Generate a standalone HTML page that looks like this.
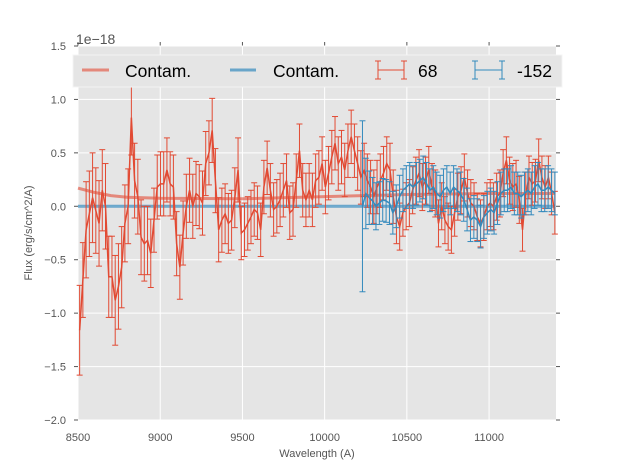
<!DOCTYPE html>
<html><head><meta charset="utf-8"><style>
html,body{margin:0;padding:0;background:#fff;}
svg{display:block;font-family:"Liberation Sans","DejaVu Sans",sans-serif;}
</style></head><body>
<svg id="chart" width="617" height="467" viewBox="0 0 617 467"></svg>
<script>
const redFlux = [-1.16,-0.69,-0.22,-0.07,0.08,-0.04,-0.16,0.15,0,-0.66,-0.66,-0.88,-0.75,-0.57,-0.16,0,0.83,0.24,0.09,-0.29,-0.35,-0.32,-0.44,-0.13,0.18,0.21,0.21,0.34,0.21,0.18,-0.35,-0.57,-0.25,0,0.15,0,0.12,0.09,0.03,0.4,0.5,0.71,0.24,-0.22,-0.13,-0.07,-0.16,-0.13,
0.08,0.34,-0.25,-0.22,-0.16,-0.1,-0.03,-0.06,-0.22,0.18,0.36,0.15,-0.03,0,0.06,0.15,0.24,-0.06,-0.03,0.24,0.52,0.15,0.06,0.15,0.06,0.24,0.27,0.4,0.18,0.31,0.46,0.59,0.4,0.46,0.34,0.52,0.65,0.52,0.4,0.27,0.34,0.24,0.18,0.09,0.18,0.24,0.31,0.4,0.34,0.09,-0.1,
-0.19,-0.06,0,0.03,0.15,0.24,0.31,0.18,0.24,0.34,0.18,0.12,-0.16,0,-0.13,-0.19,-0.22,-0.06,0.09,0.15,0.27,0.12,0.03,0,-0.1,-0.16,-0.1,0,0.03,0,0.09,0.12,0.31,0.43,0.24,0.18,0.21,0.06,-0.22,0.12,0.27,0.21,0.24,0.43,0.27,0.18,0.27,0.12,-0.06];
const redErr = [0.42,0.35,0.45,0.4,0.42,0.4,0.4,0.38,0.4,0.38,0.38,0.42,0.4,0.38,0.36,0.35,0.35,0.35,0.35,0.35,0.35,0.32,0.32,0.3,0.3,0.3,0.3,0.3,0.3,0.3,0.3,0.3,0.3,0.3,0.3,0.3,0.3,0.3,0.3,0.3,0.3,0.3,0.3,0.3,0.3,0.28,0.28,0.28,
0.28,0.3,0.25,0.25,0.25,0.25,0.25,0.25,0.25,0.25,0.25,0.25,0.25,0.25,0.25,0.25,0.25,0.25,0.25,0.25,0.25,0.25,0.25,0.25,0.25,0.25,0.25,0.25,0.25,0.25,0.25,0.25,0.25,0.25,0.25,0.25,0.25,0.25,0.25,0.25,0.25,0.25,0.25,0.25,0.25,0.25,0.25,0.25,0.25,0.25,0.25,
0.22,0.22,0.22,0.22,0.22,0.22,0.22,0.22,0.22,0.22,0.22,0.22,0.22,0.22,0.22,0.22,0.22,0.22,0.22,0.22,0.22,0.22,0.22,0.22,0.22,0.22,0.22,0.22,0.22,0.22,0.22,0.22,0.22,0.22,0.22,0.22,0.22,0.22,0.2,0.2,0.2,0.2,0.2,0.2,0.2,0.2,0.2,0.2,0.2,0.2];
const redStart = 8510, redEnd = 11400;
const blueFlux = [0,0.12,0.08,0.05,0,0.03,0.06,0.05,0.03,-0.06,0,0.09,0.15,0.18,0.21,0.18,0.21,0.24,0.27,0.21,0.15,0.18,0.12,0.09,0.15,0.18,0.12,0.18,0.15,0.12,0.06,-0.03,-0.13,-0.1,-0.13,-0.19,-0.1,-0.06,-0.03,-0.06,0.03,0.12,0.15,0.15,0.18,0.12,0.12,0.09,0.12,0.15,0.12,0.18,0.21,0.15,0.15,0.18,0.15,0.12];
const blueErr = [0.8,0.33,0.25,0.22,0.22,0.2,0.2,0.2,0.2,0.2,0.2,0.2,0.2,0.2,0.2,0.2,0.2,0.2,0.2,0.2,0.2,0.2,0.2,0.2,0.2,0.2,0.2,0.2,0.2,0.2,0.2,0.2,0.2,0.2,0.2,0.2,0.2,0.2,0.2,0.2,0.2,0.2,0.2,0.2,0.2,0.2,0.2,0.2,0.2,0.2,0.2,0.2,0.2,0.2,0.2,0.2,0.2,0.2];
const blueStart = 10230, blueEnd = 11400;
const contamRedWave = [8500,8600,8700,8800,9000,9500,10000,10500,11000,11400];
const contamRedFlux = [0.17,0.13,0.10,0.085,0.075,0.07,0.09,0.11,0.12,0.12];
const contamBlueWave = [8500,11400];
const contamBlueFlux = [0,0];
const xTicks = [8500,9000,9500,10000,10500,11000];
const yTicks = [-2.0,-1.5,-1.0,-0.5,0.0,0.5,1.0,1.5];

const L=78,R=556,T=46,B=420, XMIN=8500,XMAX=11407,YMIN=-2,YMAX=1.5;
const X=v=>L+(v-XMIN)/(XMAX-XMIN)*(R-L);
const Y=v=>B-(v-YMIN)/(YMAX-YMIN)*(B-T);
const NS="http://www.w3.org/2000/svg", svg=document.getElementById('chart');
function el(t,a,p){const e=document.createElementNS(NS,t);for(const k in a)e.setAttribute(k,a[k]);(p||svg).appendChild(e);return e;}

const bg=el('rect',{x:L,y:T,width:R-L,height:B-T,fill:'#e5e5e5'});


const grid=el('g',{});


xTicks.forEach(t=>{el('line',{x1:X(t),x2:X(t),y1:T,y2:B,stroke:'#fff','stroke-width':1},grid);
 el('line',{x1:X(t),x2:X(t),y1:T,y2:T-4,stroke:'#555','stroke-width':1},grid);
 const tx=el('text',{x:X(t),y:441,'font-size':11,fill:'#555','text-anchor':'middle'});tx.textContent=t;
 
 });
yTicks.forEach(t=>{el('line',{x1:L,x2:R,y1:Y(t),y2:Y(t),stroke:'#fff','stroke-width':1},grid);
 el('line',{x1:R,x2:R+4,y1:Y(t),y2:Y(t),stroke:'#555','stroke-width':1},grid);
 el('line',{x1:L,x2:L-4,y1:Y(t),y2:Y(t),stroke:'#555','stroke-width':1},grid);
 const tx=el('text',{x:66,y:Y(t)+4,'font-size':11,fill:'#555','text-anchor':'end'});tx.textContent=(t<0?'\u2212':'')+Math.abs(t).toFixed(1);
 
 });

function line(w,f,color,width,op,name){
 const p=el('polyline',{points:w.map((x,i)=>X(x)+','+Y(f[i])).join(' '),fill:'none',stroke:color,'stroke-width':width,'stroke-opacity':op,'stroke-linejoin':'round'});
 
 }
line(contamRedWave,contamRedFlux,'#E24A33',3,0.6,'contam-red-line');
line(contamBlueWave,contamBlueFlux,'#348ABD',3,0.7,'contam-blue-line');

function errSeries(flux,err,s,e,color,name){
 const g=el('g',{});
 
 
 const n=flux.length, w=flux.map((_,i)=>s+(e-s)*i/(n-1));
 flux.forEach((v,i)=>{const x=X(w[i]),y1=Y(v-err[i]),y2=Y(v+err[i]);
  el('line',{x1:x,x2:x,y1:y1,y2:y2,stroke:color,'stroke-width':1},g);
  el('line',{x1:x-3,x2:x+3,y1:y1,y2:y1,stroke:color,'stroke-width':1},g);
  el('line',{x1:x-3,x2:x+3,y1:y2,y2:y2,stroke:color,'stroke-width':1},g);});
 el('polyline',{points:flux.map((v,i)=>X(w[i])+','+Y(v)).join(' '),fill:'none',stroke:color,'stroke-width':1.5},g);}
errSeries(redFlux,redErr,redStart,redEnd,'#E24A33','series-68');
errSeries(blueFlux,blueErr,blueStart,blueEnd,'#348ABD','series-minus-152');
</script>
<svg width="617" height="467" style="position:absolute;left:0;top:0;font-family:'Liberation Sans','DejaVu Sans',sans-serif;">
<text x="76" y="44" font-size="14" fill="#555">1e−18</text>
<text x="317" y="457" font-size="11" fill="#555" text-anchor="middle">Wavelength (A)</text>
<text transform="translate(32,233) rotate(-90)" font-size="11" fill="#555" text-anchor="middle">Flux (erg/s/cm^2/A)</text>
<g>
<rect x="73" y="55" width="489" height="32" fill="#e5e5e5" stroke="#f4f4f4" stroke-width="1"/>
<line x1="82" x2="109" y1="70" y2="70" stroke="#E24A33" stroke-opacity="0.6" stroke-width="3"/>
<text x="125" y="77" font-size="17.5" fill="#000">Contam.</text>
<line x1="230" x2="256" y1="70" y2="70" stroke="#348ABD" stroke-opacity="0.7" stroke-width="3"/>
<text x="273" y="77" font-size="17.5" fill="#000">Contam.</text>
<g stroke="#E24A33" stroke-width="1"><line x1="378" x2="404" y1="70" y2="70"/><line x1="378" x2="378" y1="61" y2="79"/><line x1="404" x2="404" y1="61" y2="79"/><line x1="375" x2="381" y1="61" y2="61"/><line x1="375" x2="381" y1="79" y2="79"/><line x1="401" x2="407" y1="61" y2="61"/><line x1="401" x2="407" y1="79" y2="79"/></g>
<text x="418" y="77" font-size="17.5" fill="#000">68</text>
<g stroke="#348ABD" stroke-width="1"><line x1="475" x2="502" y1="70" y2="70"/><line x1="475" x2="475" y1="61" y2="79"/><line x1="502" x2="502" y1="61" y2="79"/><line x1="472" x2="478" y1="61" y2="61"/><line x1="472" x2="478" y1="79" y2="79"/><line x1="499" x2="505" y1="61" y2="61"/><line x1="499" x2="505" y1="79" y2="79"/></g>
<text x="517" y="77" font-size="17.5" fill="#000">-152</text>
</g>
</svg>
</body></html>
